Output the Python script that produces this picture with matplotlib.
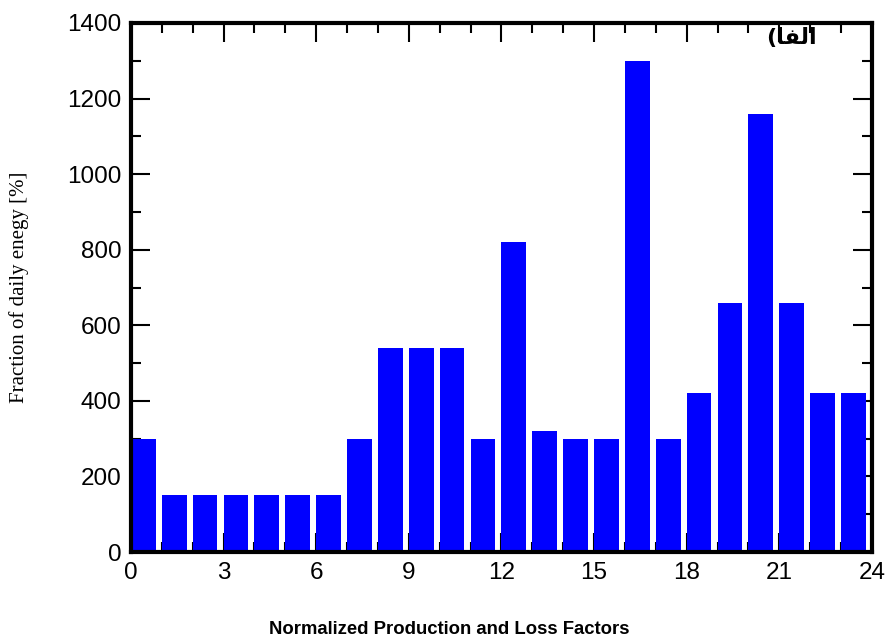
import matplotlib.pyplot as plt
from matplotlib.ticker import MultipleLocator

# hourly values
hours = list(range(24))
fraction = [300, 150, 150, 150, 150, 150, 150, 300, 540, 540, 540, 300,
            820, 320, 300, 300, 1300, 300, 420, 660, 1160, 660, 420, 420]

# "(الفا" written as presentation forms, since matplotlib does no shaping
tag = "(" + "\uFE8E\uFED4\uFEDF\uFE8D"

fig = plt.figure(figsize=(8.87, 6.37), dpi=100)
ax = fig.add_axes([0.1477, 0.1334, 0.8353, 0.8305])

ax.bar(hours, fraction, width=0.8, align='edge', color='#0000ff', zorder=3)

ax.set_xlim(0, 24)
ax.set_ylim(0, 1400)
ax.xaxis.set_major_locator(MultipleLocator(3))
ax.xaxis.set_minor_locator(MultipleLocator(1))
ax.yaxis.set_major_locator(MultipleLocator(200))
ax.yaxis.set_minor_locator(MultipleLocator(100))

ax.tick_params(which='both', direction='in', top=True, right=True, width=1.5)
ax.tick_params(which='major', length=14, labelsize=17.5, pad=7)
ax.tick_params(which='minor', length=7)
for lab in ax.get_xticklabels() + ax.get_yticklabels():
    lab.set_family('Liberation Sans')
for sp in ax.spines.values():
    sp.set_linewidth(3)
    sp.set_zorder(4)

ax.set_ylabel("Fraction of daily enegy [%]", family='Liberation Serif',
              fontsize=15, labelpad=27)
# x label sits well below the axis, a bit left of centre
fig.text(0.507, 0.012, "Normalized Production and Loss Factors",
         family='Liberation Sans', fontweight='bold', fontsize=13.3,
         ha='center', va='center')

ax.text(0.925, 0.99, tag, transform=ax.transAxes, ha='right', va='top',
        family=['DejaVu Sans'], fontweight='bold', fontsize=16)

fig.savefig('out.png', dpi=100)
